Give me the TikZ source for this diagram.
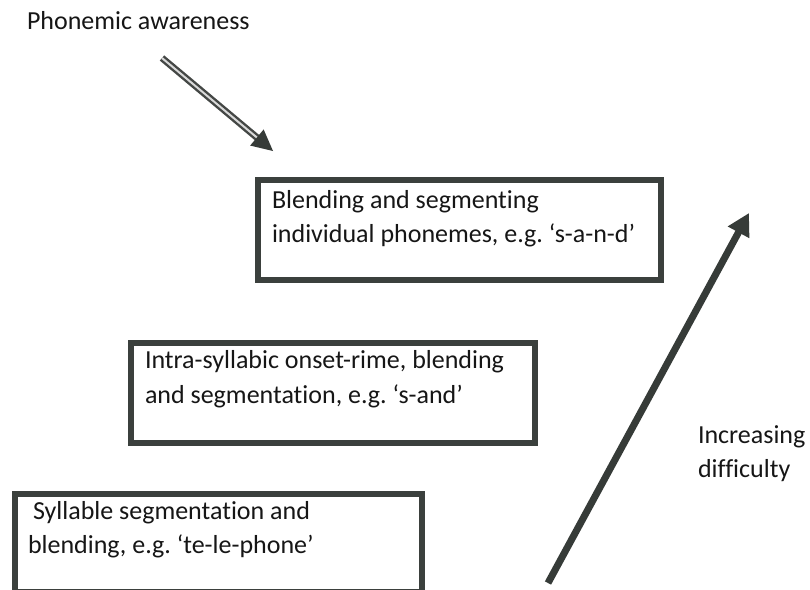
\documentclass[tikz,border=0pt]{standalone}
\usepackage{fontspec}
\setmainfont[Ligatures={NoCommon}]{Carlito}
\usetikzlibrary{arrows.meta,calc}
\definecolor{boxcol}{HTML}{3B403D}
\definecolor{arrcol}{HTML}{363B38}
\definecolor{shaftcol}{HTML}{444745}
\definecolor{txtcol}{HTML}{161616}
\frenchspacing
\begin{document}
\begin{tikzpicture}[x=1pt,y=-1pt,
  lbl/.style={anchor=base west, inner sep=0pt, outer sep=0pt,
              font=\fontsize{26}{34}\selectfont\frenchspacing, text=txtcol},
  stagebox/.style={draw=boxcol, line width=6pt, rectangle, inner sep=0pt,
                   outer sep=0pt, fill=white}]
\useasboundingbox (0,0) rectangle (810,589);
\clip (0,0) rectangle (810,589);
\fill[white] (0,0) rectangle (810,589);

% boxes
\node[stagebox, minimum width=403pt, minimum height=100pt] (box1) at (459.5,230) {};
\node[stagebox, minimum width=404pt, minimum height=100pt] (box2) at (333,393) {};
\node[stagebox, minimum width=407pt, minimum height=98pt] (box3) at (218.5,543) {};

% texts
\node[lbl] (pa) at (27,29) {Phonemic awareness};
\node[lbl] (b1a) at (272,208) {Blending and segmenting};
\node[lbl] (b1b) at (272,242) {individual phonemes, e.g. ‘s-a-n-d’};
\node[lbl] (b2a) at (145,368) {Intra-syllabic onset-rime, blending};
\node[lbl] (b2b) at (145,403) {and segmentation, e.g. ‘s-and’};
\node[lbl] (b3a) at (33,519) {Syllable segmentation and};
\node[lbl] (b3b) at (28,553) {blending, e.g. ‘te-le-phone’};
\node[lbl] (inca) at (698,443) {Increasing};
\node[lbl] (incb) at (698,477) {difficulty};

% phonemic awareness arrow (double shaft)
\coordinate (pastart) at (162,58);
\coordinate (patip) at (273,151);
\draw[draw=shaftcol, line width=2.4pt, double=white!85!black, double distance=2pt]
  (pastart) -- ($(patip)!16pt!(pastart)$);
\fill[arrcol] (patip)
  -- ($(patip)!21pt!(pastart)!10.5pt!90:(patip)$)
  -- ($(patip)!21pt!(pastart)!10.5pt!-90:(patip)$) -- cycle;

% increasing difficulty arrow
\coordinate (inctail) at (548,583);
\coordinate (inctip) at (749,213);
\draw[arrcol, line width=7pt, -{Triangle[length=22pt,width=23pt]}] (inctail) -- (inctip);
\end{tikzpicture}
\end{document}
